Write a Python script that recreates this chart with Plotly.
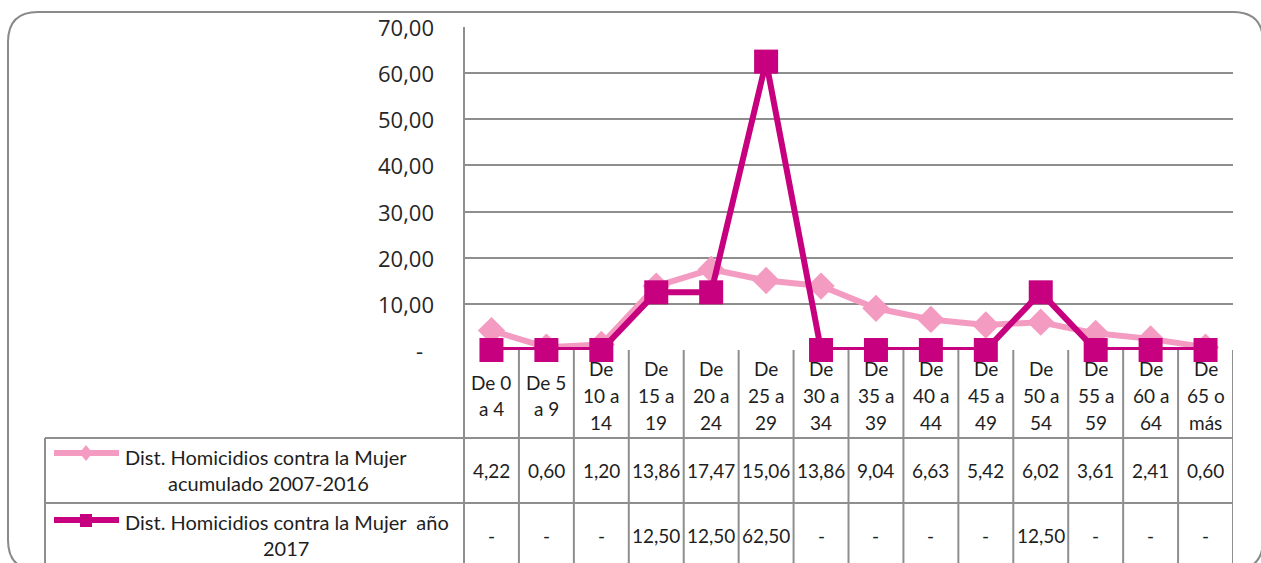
import plotly.graph_objects as go

# ---------------- data ----------------
categories = ["De 0 a 4", "De 5 a 9", "De 10 a 14", "De 15 a 19", "De 20 a 24",
              "De 25 a 29", "De 30 a 34", "De 35 a 39", "De 40 a 44", "De 45 a 49",
              "De 50 a 54", "De 55 a 59", "De 60 a 64", "De 65 o más"]
header_lines = [["De 0", "a 4"], ["De 5", "a 9"], ["De", "10 a", "14"], ["De", "15 a", "19"],
                ["De", "20 a", "24"], ["De", "25 a", "29"], ["De", "30 a", "34"],
                ["De", "35 a", "39"], ["De", "40 a", "44"], ["De", "45 a", "49"],
                ["De", "50 a", "54"], ["De", "55 a", "59"], ["De", "60 a", "64"],
                ["De", "65 o", "más"]]
series1_name = ["Dist. Homicidios contra la Mujer", "acumulado 2007-2016"]
series2_name = ["Dist. Homicidios contra la Mujer  año", "2017"]
series1 = [4.22, 0.60, 1.20, 13.86, 17.47, 15.06, 13.86, 9.04, 6.63, 5.42, 6.02, 3.61, 2.41, 0.60]
series2 = [0, 0, 0, 12.50, 12.50, 62.50, 0, 0, 0, 0, 12.50, 0, 0, 0]
y_ticks = [0, 10, 20, 30, 40, 50, 60, 70]
y_tick_labels = ["-", "10,00", "20,00", "30,00", "40,00", "50,00", "60,00", "70,00"]

# ---------------- layout constants ----------------
W, H = 1261, 563
PINK = "#F49BC2"
MAGENTA = "#C6007E"
GRID = "#8E8E8E"
TXT = "#1E1E1E"
TFONT = "Lato"
TSIZE = 19

PL, PR, PT, PB = 464, 1233, 27, 350   # plot area in px


def xp(x):
    return x / W


def yp(y):
    return 1 - y / H


def fmt(v):
    return "-" if v == 0 else f"{v:.2f}".replace(".", ",")


n = len(categories)
xs = list(range(n))

fig = go.Figure()
fig.add_trace(go.Scatter(
    x=xs, y=series1, mode="lines+markers", name=" ".join(series1_name),
    line=dict(color=PINK, width=6),
    marker=dict(symbol="diamond", size=21, color=PINK),
    cliponaxis=False, showlegend=False, hoverinfo="skip"))
fig.add_trace(go.Scatter(
    x=xs, y=series2, mode="lines+markers", name=" ".join(series2_name),
    line=dict(color=MAGENTA, width=6),
    marker=dict(symbol="square", size=24, color=MAGENTA),
    cliponaxis=False, showlegend=False, hoverinfo="skip"))

shapes = []
annotations = []

# outer rounded frame
x0, y0, x1, y1, r = 8, 12, 1263, 570, 30
path = (f"M {xp(x0+r)} {yp(y0)} L {xp(x1-r)} {yp(y0)} "
        f"Q {xp(x1)} {yp(y0)} {xp(x1)} {yp(y0+r)} L {xp(x1)} {yp(y1-r)} "
        f"Q {xp(x1)} {yp(y1)} {xp(x1-r)} {yp(y1)} L {xp(x0+r)} {yp(y1)} "
        f"Q {xp(x0)} {yp(y1)} {xp(x0)} {yp(y1-r)} L {xp(x0)} {yp(y0+r)} "
        f"Q {xp(x0)} {yp(y0)} {xp(x0+r)} {yp(y0)} Z")
shapes.append(dict(type="path", path=path, xref="paper", yref="paper",
                   line=dict(color="#8A8A8A", width=2), layer="below"))

# y tick labels
for v, t in zip(y_ticks, y_tick_labels):
    annotations.append(dict(xref="paper", yref="y", x=xp(436 if t != "-" else 425), y=v,
                            text=t, showarrow=False, xanchor="right", yanchor="middle",
                            font=dict(family="Open Sans", size=22, color="#262626")))

# table lines
BOT = 600
line_style = dict(color=GRID, width=2)
for k in range(n + 1):
    shapes.append(dict(type="line", xref="x", yref="paper", x0=k - 0.5, x1=k - 0.5,
                       y0=yp(PB), y1=yp(BOT), line=line_style))
shapes.append(dict(type="line", xref="paper", yref="paper", x0=xp(PL), x1=xp(PL),
                   y0=yp(PT), y1=yp(BOT), line=line_style))
shapes.append(dict(type="line", xref="paper", yref="paper", x0=xp(45), x1=xp(45),
                   y0=yp(438), y1=yp(BOT), line=line_style))
for yy in (438, 503):
    shapes.append(dict(type="line", xref="paper", yref="paper", x0=xp(45), x1=xp(PR),
                       y0=yp(yy), y1=yp(yy), line=line_style))

# header category labels
for k, lines in enumerate(header_lines):
    ys = [382, 408] if len(lines) == 2 else [368, 395, 422]
    for txt, yy in zip(lines, ys):
        annotations.append(dict(xref="x", yref="paper", x=k, y=yp(yy), text=txt,
                                showarrow=False, xanchor="center", yanchor="middle",
                                font=dict(family=TFONT, size=TSIZE, color=TXT)))

# values rows
for k in range(n):
    annotations.append(dict(xref="x", yref="paper", x=k, y=yp(470), text=fmt(series1[k]),
                            showarrow=False, xanchor="center", yanchor="middle",
                            font=dict(family=TFONT, size=TSIZE, color=TXT)))
    annotations.append(dict(xref="x", yref="paper", x=k, y=yp(535), text=fmt(series2[k]),
                            showarrow=False, xanchor="center", yanchor="middle",
                            font=dict(family=TFONT, size=TSIZE, color=TXT)))

# legend keys
shapes.append(dict(type="line", xref="paper", yref="paper", x0=xp(54), x1=xp(119),
                   y0=yp(453), y1=yp(453), line=dict(color=PINK, width=6)))
dx, dy = 6.5, 8
shapes.append(dict(type="path", xref="paper", yref="paper",
                   path=f"M {xp(86)} {yp(453-dy)} L {xp(86+dx)} {yp(453)} L {xp(86)} {yp(453+dy)} L {xp(86-dx)} {yp(453)} Z",
                   fillcolor=PINK, line=dict(color=PINK, width=0)))
shapes.append(dict(type="line", xref="paper", yref="paper", x0=xp(54), x1=xp(119),
                   y0=yp(520), y1=yp(520), line=dict(color=MAGENTA, width=6)))
shapes.append(dict(type="rect", xref="paper", yref="paper", x0=xp(80), x1=xp(92),
                   y0=yp(514), y1=yp(527), fillcolor=MAGENTA, line=dict(width=0)))

# legend texts
LSIZE = 20
annotations.append(dict(xref="paper", yref="paper", x=xp(123), y=yp(457), text=series1_name[0],
                        showarrow=False, xanchor="left", yanchor="middle",
                        font=dict(family=TFONT, size=LSIZE, color=TXT)))
annotations.append(dict(xref="paper", yref="paper", x=xp(268), y=yp(483), text=series1_name[1],
                        showarrow=False, xanchor="center", yanchor="middle",
                        font=dict(family=TFONT, size=LSIZE, color=TXT)))
annotations.append(dict(xref="paper", yref="paper", x=xp(123), y=yp(522), text=series2_name[0],
                        showarrow=False, xanchor="left", yanchor="middle",
                        font=dict(family=TFONT, size=LSIZE, color=TXT)))
annotations.append(dict(xref="paper", yref="paper", x=xp(286), y=yp(548), text=series2_name[1],
                        showarrow=False, xanchor="center", yanchor="middle",
                        font=dict(family=TFONT, size=LSIZE, color=TXT)))

fig.update_layout(
    width=W, height=H, margin=dict(l=0, r=0, t=0, b=0),
    paper_bgcolor="white", plot_bgcolor="white",
    xaxis=dict(domain=[xp(PL), xp(PR)], range=[-0.5, n - 0.5], showgrid=False,
               showticklabels=False, zeroline=False, showline=False, ticks=""),
    yaxis=dict(domain=[yp(PB), yp(PT)], range=[0, 70], tickvals=y_ticks,
               showticklabels=False, showgrid=True, gridcolor=GRID, gridwidth=2,
               zeroline=False, showline=False, ticks=""),
    shapes=shapes, annotations=annotations, showlegend=False,
)

fig.write_html("out.html", config={"displayModeBar": False},
               post_script="document.body.style.margin='0';document.body.style.overflow='hidden';")
